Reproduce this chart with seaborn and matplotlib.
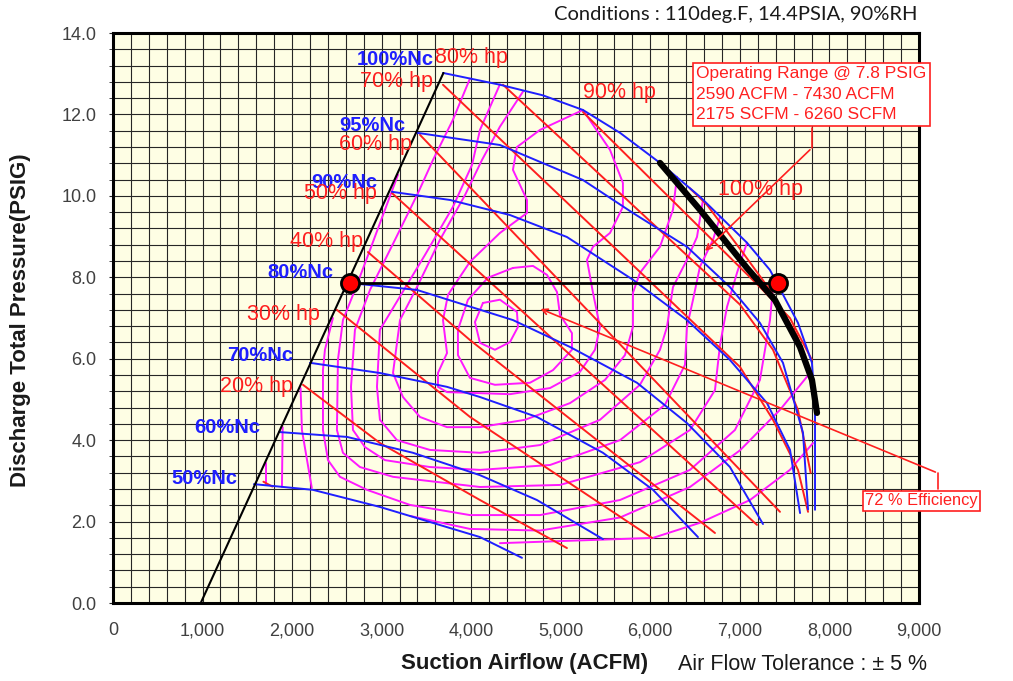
import matplotlib
matplotlib.use("Agg")
import matplotlib.pyplot as plt
import seaborn as sns
from matplotlib.ticker import MultipleLocator, FuncFormatter

# ---- data (ACFM, PSIG) ----
surge_x = [980, 3690]
surge_y = [0.0, 13.02]

# constant speed lines
speed_lines = {
    "100%Nc": ([3685, 4321, 4800, 5248, 5661, 6108, 6554, 7079, 7336, 7649, 7805, 7839, 7839],
               [13.02, 12.73, 12.47, 12.11, 11.55, 10.81, 9.98, 8.85, 8.18, 6.88, 5.90, 4.74, 2.29]),
    "95%Nc": ([3394, 4321, 5248, 5806, 6409, 6889, 7224, 7481, 7705, 7761],
              [11.55, 11.25, 10.39, 9.58, 8.75, 7.76, 6.88, 5.90, 4.18, 2.30]),
    "90%Nc": ([3115, 3763, 4433, 5069, 5806, 6409, 6889, 7303, 7560, 7672],
              [10.10, 9.90, 9.53, 8.99, 7.94, 6.95, 5.97, 4.91, 3.76, 2.21]),
    "80%Nc": ([2646, 3394, 4466, 5103, 5851, 6409, 6889, 7258],
              [7.86, 7.69, 6.95, 6.29, 5.41, 4.42, 3.34, 1.94]),
    "70%Nc": ([2200, 2981, 3729, 4098, 4734, 5471, 6030, 6532],
              [5.90, 5.65, 5.31, 5.06, 4.57, 3.69, 2.78, 1.62]),
    "60%Nc": ([1854, 2613, 3350, 4098, 4734, 5471],
              [4.20, 4.08, 3.69, 3.14, 2.53, 1.57]),
    "50%Nc": ([1574, 2233, 2981, 4098, 4567],
              [2.92, 2.78, 2.36, 1.62, 1.11]),
}
speed_label_x = [3580, 3265, 2950, 2460, 2010, 1640, 1385]
speed_label_y = [13.34, 11.72, 10.34, 8.11, 6.07, 4.30, 3.07]

# constant horsepower lines
hp_lines = {
    "10%": ([1680, 1780], [2.98, 2.86]),
    "20%": ([2122, 2981, 4098, 5069], [5.36, 3.93, 2.53, 1.35]),
    "30%": ([2501, 3987, 6019], [7.20, 4.57, 1.60]),
    "40%": ([2847, 3986, 6722], [8.62, 6.46, 1.72]),
    "50%": ([3115, 4433, 7191], [10.07, 7.44, 1.92]),
    "60%": ([3428, 7448], [11.50, 2.24]),
    "70%": ([3685, 7001, 7370, 7649, 7761], [12.73, 5.80, 4.50, 3.27, 2.24]),
    "80%": ([4355, 7001, 7370, 7649, 7790], [12.73, 7.33, 6.22, 4.74, 3.20]),
    "90%": ([5248, 7224, 7559, 7805], [12.06, 7.76, 7.00, 5.97]),
    "100%": ([6440, 6633, 7035, 7336, 7637, 7783], [10.19, 9.78, 8.60, 7.69, 6.58, 5.72]),
}
hp_label_text = ["80% hp", "70% hp", "60% hp", "50% hp", "40% hp", "30% hp", "20% hp", "90% hp", "100% hp"]
hp_label_x = [3595, 3573, 3339, 2948, 2791, 2311, 2010, 5248, 6755]
hp_label_y = [13.39, 12.80, 11.25, 10.07, 8.87, 7.08, 5.31, 12.53, 10.15]
hp_label_ha = ["left", "right", "right", "right", "right", "right", "right", "left", "left"]

# efficiency contours
eff_lines = {
    "island_small": ([4131, 4321, 4511, 4522, 4433, 4265, 4098, 4042, 4131],
                     [7.37, 7.45, 7.15, 6.78, 6.41, 6.22, 6.39, 6.90, 7.37]),
    "island": ([4466, 4690, 4846, 4958, 4991, 5125, 5125, 4913, 4656, 4265, 3986, 3852, 3852, 3964, 4187, 4466],
               [8.23, 8.28, 8.06, 7.64, 7.08, 6.63, 6.22, 5.72, 5.41, 5.36, 5.53, 6.09, 6.71, 7.45, 7.99, 8.23]),
    "c1": ([5248, 5550, 5694, 5694, 5550, 5360, 5293, 5360, 5438, 5382, 5215, 4880, 4433, 4020, 3730, 3629,
            3629, 3730, 3685, 3741, 3986, 4321, 4623, 4623, 4466, 4511, 4768, 5248],
           [12.11, 11.13, 10.32, 9.73, 9.09, 8.75, 8.43, 7.62, 6.78, 6.22, 5.68, 5.28, 5.13, 5.16, 5.18, 5.31,
            5.65, 6.14, 6.95, 7.57, 8.38, 9.09, 9.58, 9.90, 10.64, 11.20, 11.62, 12.11]),
    "c2": ([4578, 4321, 4120, 3931, 3651, 3406, 3205, 3127, 3238, 3428, 3730, 4098, 4600, 5103, 5494, 5717,
            5806, 5806, 5884, 6108, 6253, 6298],
           [12.56, 11.70, 10.88, 10.02, 8.92, 7.81, 6.95, 5.65, 5.06, 4.57, 4.32, 4.32, 4.50, 4.91, 5.48, 6.09,
            6.78, 7.62, 8.11, 8.75, 9.66, 10.47]),
    "c3": ([4321, 4098, 4009, 3796, 3484, 3183, 2981, 2948, 2981, 3171, 3540, 4098, 4768, 5438, 5884, 6108,
            6186, 6253, 6409, 6521, 6588],
           [12.74, 11.62, 10.76, 9.73, 8.55, 7.45, 6.71, 5.31, 4.50, 4.00, 3.76, 3.69, 3.88, 4.50, 5.36, 6.22,
            6.78, 7.76, 8.43, 8.99, 9.90]),
    "c4": ([3986, 3796, 3573, 3406, 3149, 2870, 2702, 2658, 2680, 2814, 3037, 3540, 4098, 4880, 5661, 6164,
            6387, 6409, 6476, 6554, 6700, 6778],
           [12.88, 11.87, 10.88, 10.07, 8.92, 7.69, 6.71, 5.31, 4.25, 3.83, 3.51, 3.34, 3.27, 3.39, 4.00, 4.87,
            5.85, 6.78, 7.44, 8.26, 8.92, 9.48]),
    "c5": ([3183, 3037, 2870, 2702, 2568, 2512, 2501, 2568, 2758, 3127, 4098, 4991, 5884, 6443, 6722, 6778,
            6856, 6968, 7079],
           [10.52, 9.66, 8.67, 7.69, 6.95, 5.97, 4.25, 3.69, 3.34, 3.10, 2.85, 2.90, 3.46, 4.25, 5.23, 6.34,
            7.27, 8.11, 8.85]),
    "c6": ([2456, 2367, 2345, 2345, 2401, 2535, 2836, 3316, 3986, 4768, 5661, 6443, 6945, 7224, 7336, 7380],
           [7.00, 6.22, 5.72, 4.25, 3.51, 3.10, 2.78, 2.41, 2.16, 2.16, 2.53, 3.27, 4.25, 5.48, 6.95, 8.00]),
    "c7_left": ([2095, 2110, 2220], [5.28, 4.25, 2.83]),
    "c7_right": ([3316, 3986, 4768, 5661, 6443, 7001, 7450, 7783],
                 [2.14, 1.82, 1.78, 2.10, 2.85, 3.75, 4.75, 5.65]),
    "c8_left": ([1895, 1887], [4.32, 2.85]),
    "c8_right": ([4321, 6030, 6554, 7113, 7559, 7817], [1.47, 1.60, 1.97, 2.53, 3.27, 3.93]),
    "c9_left": ([1712, 1712], [3.45, 2.90]),
}

# operating limit and operating range at 7.8 psig
limit_x = [6108, 6554, 7079, 7392, 7671, 7805, 7861]
limit_y = [10.81, 9.66, 8.23, 7.44, 6.29, 5.48, 4.67]
op_x = [2650, 7430]
op_y = [7.85, 7.85]

BLUE = "#1f1fff"
RED = "#ff1f1f"
MAGENTA = "#ff19ff"

sns.set_style("white")
plt.rcParams["font.family"] = ["Liberation Sans", "DejaVu Sans"]

fig = plt.figure(figsize=(10.13, 6.81), dpi=100)
ax = fig.add_axes([0.1115, 0.1145, 0.7957, 0.837])
ax.set_facecolor("#fefee4")


def draw(xs, ys, color, lw, z=3):
    sns.lineplot(x=xs, y=ys, sort=False, estimator=None, color=color, lw=lw, ax=ax, zorder=z)


for name, (xs, ys) in eff_lines.items():
    draw(xs, ys, MAGENTA, 1.4, 3)
for name, (xs, ys) in hp_lines.items():
    draw(xs, ys, RED, 1.4, 4)
for name, (xs, ys) in speed_lines.items():
    draw(xs, ys, BLUE, 1.4, 5)
draw(surge_x, surge_y, "black", 1.5, 6)
draw(limit_x, limit_y, "black", 4.5, 6)
draw(op_x, op_y, "black", 2.0, 6)
sns.scatterplot(x=op_x, y=op_y, s=170, color="red", edgecolor="black", linewidth=2, ax=ax, zorder=8)

# labels on curves
for name, lx, ly in zip(speed_lines.keys(), speed_label_x, speed_label_y):
    ax.text(lx, ly, name, color=BLUE, fontsize=14.5, fontweight="bold", ha="right", va="center", zorder=9)
for t, lx, ly, ha in zip(hp_label_text, hp_label_x, hp_label_y, hp_label_ha):
    ax.text(lx, ly, t, color=RED, fontsize=15.5, ha=ha, va="center", zorder=9)

# callouts
ax.text(6510, 13.18, "Operating Range @ 7.8 PSIG\n2590 ACFM - 7430 ACFM\n2175 SCFM - 6260 SCFM",
        color=RED, fontsize=12.5, ha="left", va="top", linespacing=1.45, zorder=10, clip_on=False,
        bbox=dict(boxstyle="square,pad=0.2", fc="white", ec=RED, lw=1.2))
ax.plot([7805, 7805], [11.67, 11.18], color=RED, lw=1.2, zorder=10)
ax.annotate("", xy=(6588, 8.60), xytext=(7805, 11.18),
            arrowprops=dict(arrowstyle="->", color=RED, lw=1.2), zorder=10)

ax.text(8400, 2.51, "72 % Efficiency", color=RED, fontsize=11.8, ha="left", va="center",
        zorder=10, clip_on=False, bbox=dict(boxstyle="square,pad=0.15", fc="white", ec=RED, lw=1.2))
ax.plot([9212, 9212], [2.80, 3.19], color=RED, lw=1.2, zorder=10, clip_on=False)
ax.annotate("", xy=(4746, 7.25), xytext=(9212, 3.19),
            arrowprops=dict(arrowstyle="->", color=RED, lw=1.2), zorder=10, annotation_clip=False)

# axes, grid, ticks
ax.set_xlim(0, 9000)
ax.set_ylim(0, 14)
ax.xaxis.set_major_locator(MultipleLocator(1000))
ax.xaxis.set_minor_locator(MultipleLocator(200))
ax.yaxis.set_major_locator(MultipleLocator(2))
ax.yaxis.set_minor_locator(MultipleLocator(0.4))
ax.xaxis.set_major_formatter(FuncFormatter(lambda v, p: f"{int(v):,}"))
ax.yaxis.set_major_formatter(FuncFormatter(lambda v, p: f"{v:.1f}"))
ax.grid(which="both", color="#262626", lw=0.8)
ax.set_axisbelow(True)
ax.tick_params(axis="x", which="both", length=0, pad=14, labelsize=13, labelcolor="#404040")
ax.tick_params(axis="y", which="both", length=3, direction="out", left=True, pad=9,
               labelsize=13, labelcolor="#404040")
for s in ax.spines.values():
    s.set_linewidth(2.2)
    s.set_color("black")
ax.set_xlabel("")
ax.set_ylabel("")

fig.text(0.518, 0.026, "Suction Airflow (ACFM)", fontsize=16, fontweight="bold", ha="center", va="center",
         color="#1a1a1a")
fig.text(0.669, 0.024, "Air Flow Tolerance : \u00b1 5 %", fontsize=15.5, ha="left", va="center", color="#1a1a1a")
fig.text(0.02, 0.53, "Discharge Total Pressure(PSIG)", fontsize=16, fontweight="bold",
         rotation=90, ha="center", va="center", color="#1a1a1a")
fig.text(0.906, 0.978, "Conditions : 110deg.F, 14.4PSIA, 90%RH", fontsize=14.5, ha="right", va="center",
         family=["Lato", "DejaVu Sans"], color="#1a1a1a")

fig.savefig("out.png", dpi=100)
